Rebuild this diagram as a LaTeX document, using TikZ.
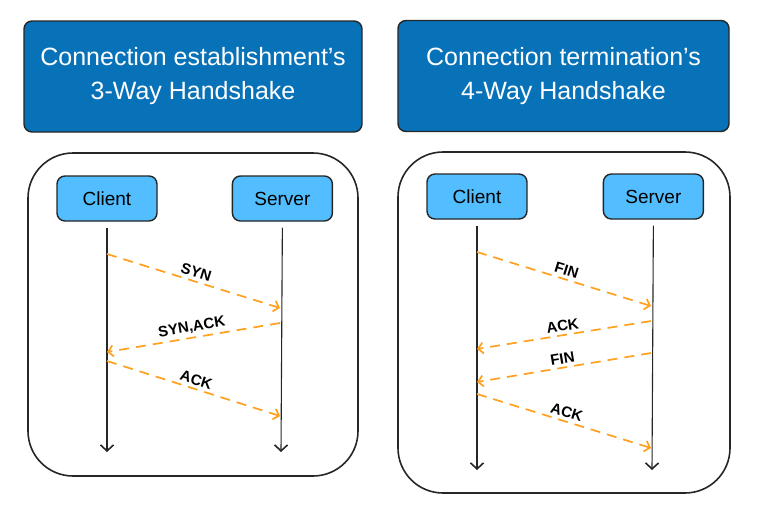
\documentclass[tikz,border=0pt]{standalone}
\usepackage{fontspec}
\setmainfont{Liberation Sans}
\usetikzlibrary{positioning}
\usetikzlibrary{arrows.meta}
\definecolor{titleblue}{RGB}{8,114,185}
\definecolor{nodeblue}{RGB}{82,189,255}
\definecolor{msgorange}{RGB}{255,160,30}
\tikzset{
    seq/.style={x=1pt,y=-1pt},
    titlebox/.style={rectangle,rounded corners=8pt,draw=black!85,line width=1.4pt,
                     fill=titleblue,text=white,align=center,
                     font=\fontsize{25}{34}\selectfont,minimum height=111pt},
    panel/.style={draw=black!85,line width=1.6pt,rounded corners=45pt},
    party/.style={rectangle,rounded corners=8pt,draw=black!85,line width=1.4pt,
                  fill=nodeblue,font=\fontsize{19}{22}\selectfont,
                  minimum width=100pt,minimum height=45pt},
    life/.style={-{Straight Barb[length=6pt,width=13pt,line width=1.6pt]},
                 draw=black!85,line width=1.1pt,shorten <=6pt},
    msg/.style={-{Straight Barb[length=5pt,width=11pt]},draw=msgorange,
                line width=1.7pt,dash pattern=on 10pt off 7pt},
    msglabel/.style={font=\bfseries\fontsize{15}{17}\selectfont,sloped,above,inner sep=3pt},
    }

\begin{document}
\begin{tikzpicture}[seq]
    \useasboundingbox (0,0) rectangle (757,512);

    % titles
    \node[titlebox,minimum width=338pt] (t3) at (193,76.5) {Connection establishment's\\3-Way Handshake};
    \node[titlebox,minimum width=331pt] (t4) at (563.5,76) {Connection termination's\\4-Way Handshake};

    % panels
    \draw[panel] (28,153) rectangle (358,476);
    \draw[panel] (398,152) rectangle (730,493);

    % 3-way handshake
    \node[party] (cl3) at (107,198.5) {Client};
    \node[party] (sv3) [right=74pt of cl3] {Server};
    \coordinate (cl3end) at (107,452);
    \coordinate (sv3end) at (281,452);
    \draw[life] (cl3.south) -- (cl3end);
    \draw[life] (sv3.south) -- (sv3end);

    \coordinate (c31) at (107,254);
    \coordinate (s31) at (280,308);
    \coordinate (s32) at (280,323);
    \coordinate (c32) at (107,352);
    \coordinate (c33) at (107,361);
    \coordinate (s33) at (280,416);
    \draw[msg] (c31) -- node[msglabel] {SYN} (s31);
    \draw[msg] (s32) -- node[msglabel] {SYN,ACK} (c32);
    \draw[msg] (c33) -- node[msglabel] {ACK} (s33);

    % 4-way handshake
    \node[party] (cl4) at (477,196.5) {Client};
    \node[party] (sv4) [right=75pt of cl4] {Server};
    \coordinate (cl4end) at (477,470);
    \coordinate (sv4end) at (652,470);
    \draw[life] (cl4.south) -- (cl4end);
    \draw[life] (sv4.south) -- (sv4end);

    \coordinate (c41) at (477,252);
    \coordinate (s41) at (651,306);
    \coordinate (s42) at (651,321);
    \coordinate (c42) at (477,349);
    \coordinate (s43) at (651,353);
    \coordinate (c43) at (477,382);
    \coordinate (c44) at (477,394);
    \coordinate (s44) at (651,448);
    \draw[msg] (c41) -- node[msglabel] {FIN} (s41);
    \draw[msg] (s42) -- node[msglabel] {ACK} (c42);
    \draw[msg] (s43) -- node[msglabel] {FIN} (c43);
    \draw[msg] (c44) -- node[msglabel] {ACK} (s44);
\end{tikzpicture}
\end{document}
